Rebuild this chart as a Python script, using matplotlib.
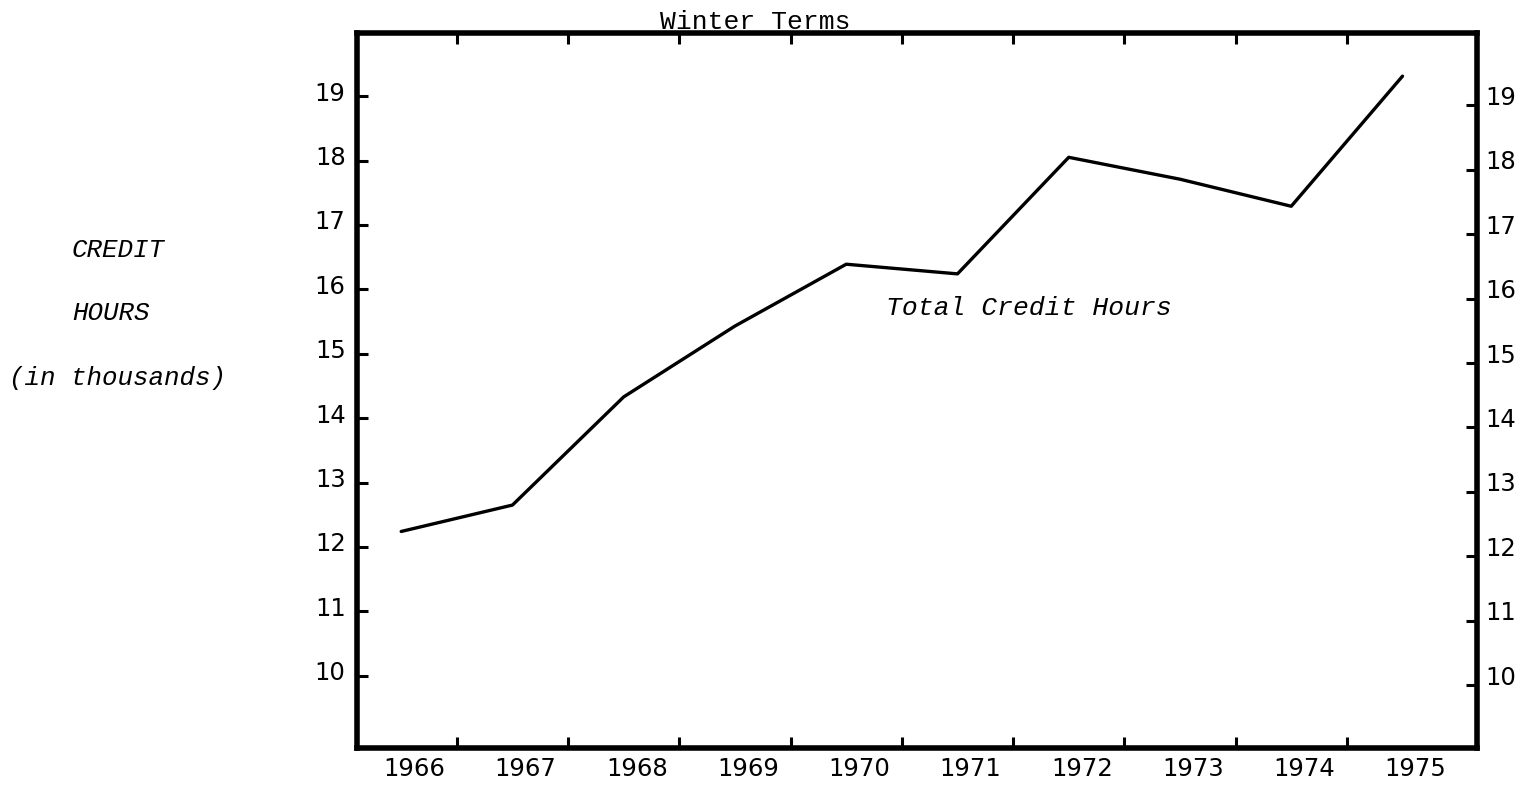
import numpy as np
import matplotlib
matplotlib.use("Agg")
import matplotlib.pyplot as plt
import matplotlib.transforms as mtransforms

# ---- data ----
years = [1966, 1967, 1968, 1969, 1970, 1971, 1972, 1973, 1974, 1975]
credit_hours = [12.24, 12.65, 14.33, 15.43, 16.39, 16.24, 18.05, 17.71, 17.29, 19.31]
y_ticks = [10, 11, 12, 13, 14, 15, 16, 17, 18, 19]
x_labels = [str(y) for y in years]

title = "Winter Terms"
series_label = "Total Credit Hours"
ylabel_lines = ["CREDIT", "HOURS", "(in thousands)"]

W, H, DPI = 1528, 786, 100
fig = plt.figure(figsize=(W / DPI, H / DPI), dpi=DPI)
fig.patch.set_facecolor("white")

ax = fig.add_axes([356.7 / W, 37.7 / H, (1476.7 - 356.7) / W, (748.3 - 32.7) / H])
ax.plot(years, credit_hours, color="black", lw=2.4, solid_joinstyle="round",
        solid_capstyle="round")

ax.set_xlim(1965.6, 1975.667)
ax.set_ylim(8.873, 19.985)

for s in ax.spines.values():
    s.set_linewidth(4)
    s.set_color("black")

num_font = dict(family="DejaVu Sans", size=17.5)

# x: labels at years (no tick marks), tick marks between years
ax.set_xticks(years)
ax.set_xticklabels(x_labels, **num_font)
ax.set_xticks([y + 0.5 for y in years[:-1]], minor=True)
ax.tick_params(axis="x", which="major", length=0, pad=6)
ax.tick_params(axis="x", which="minor", direction="in", length=8, width=2.2,
               top=True, bottom=True)
xoff = mtransforms.ScaledTranslation(13 / DPI, 0, fig.dpi_scale_trans)
for lab in ax.get_xticklabels():
    lab.set_transform(lab.get_transform() + xoff)

# left y axis
ax.set_yticks(y_ticks)
ax.set_yticklabels([str(v) for v in y_ticks], **num_font)
ax.tick_params(axis="y", which="major", direction="in", length=8, width=2.2, pad=8)
yoff = mtransforms.ScaledTranslation(0, 5 / DPI, fig.dpi_scale_trans)
for lab in ax.get_yticklabels():
    lab.set_transform(lab.get_transform() + yoff)

# right y axis (drawn slightly offset as in the original)
ax2 = ax.twinx()
ax2.set_ylim(8.873 + 0.145, 19.985 + 0.145)
ax2.set_yticks(y_ticks)
ax2.set_yticklabels([str(v) for v in y_ticks], **num_font)
ax2.tick_params(axis="y", which="major", direction="in", length=8, width=2.2, pad=6)
for s in ax2.spines.values():
    s.set_visible(False)
yoff2 = mtransforms.ScaledTranslation(0, 10 / DPI, fig.dpi_scale_trans)
for lab in ax2.get_yticklabels():
    lab.set_transform(lab.get_transform() + yoff2)

mono = "Liberation Mono"
fig.text(755 / W, 1 - 28.6 / H, title, family=mono, size=19, ha="center", va="baseline")
fig.text(886 / W, 1 - 308 / H, series_label, family=mono, style="italic", size=19,
         ha="left", va="center")
fig.text(72 / W, 1 - 250 / H, ylabel_lines[0], family=mono, style="italic", size=18.6,
         ha="left", va="center")
fig.text(72 / W, 1 - 313 / H, ylabel_lines[1], family=mono, style="italic", size=18.6,
         ha="left", va="center")
fig.text(9 / W, 1 - 378 / H, ylabel_lines[2], family=mono, style="italic", size=18.6,
         ha="left", va="center")

fig.savefig("out.png", dpi=DPI, facecolor="white")
